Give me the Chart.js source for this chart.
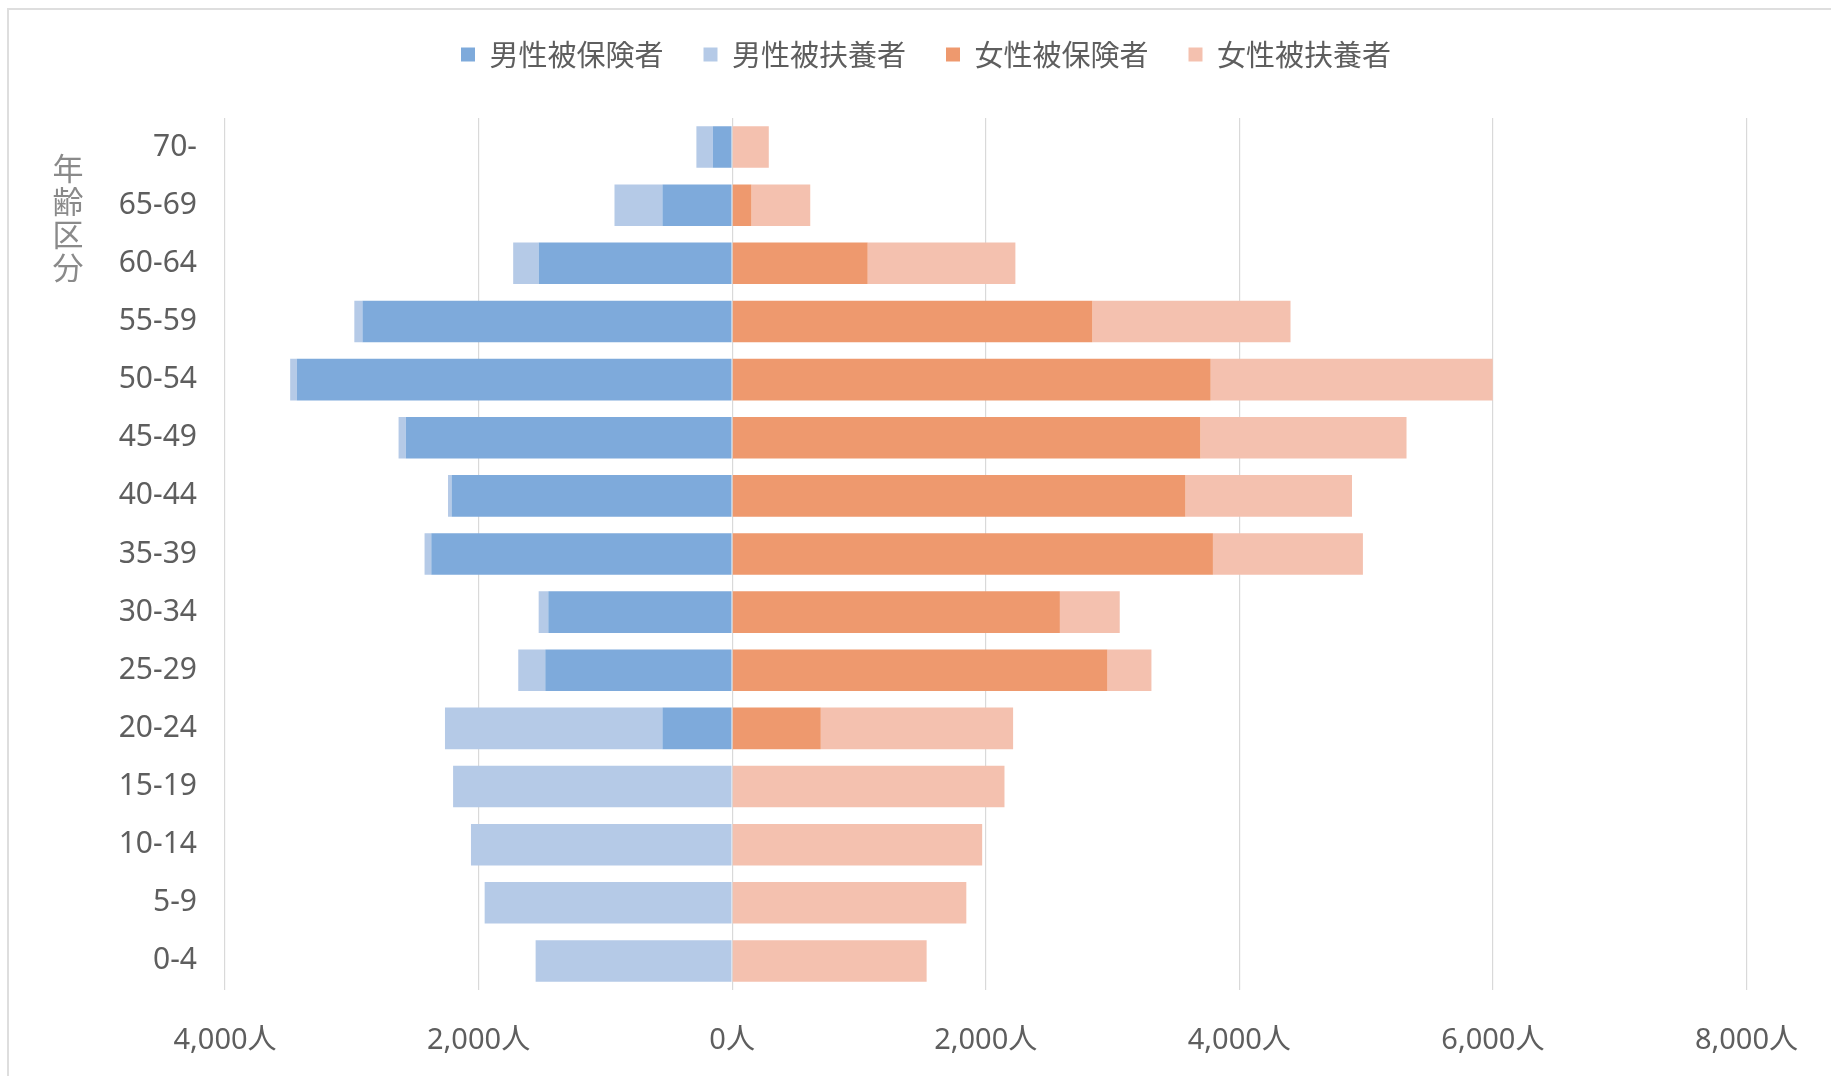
<!DOCTYPE html>
<html lang="ja">
<head>
<meta charset="utf-8">
<title>年齢区分別 加入者数</title>
<script src="https://cdn.jsdelivr.net/npm/chart.js@4/dist/chart.umd.min.js"></script>
<style>
  html, body { margin: 0; padding: 0; background: #ffffff; overflow: hidden; }
  body { width: 1831px; height: 1076px; position: relative; }
  #frame {
    position: absolute; left: 7px; top: 8px; width: 2000px; height: 2000px;
    border-left: 2px solid #dedede; border-top: 2px solid #dedede;
  }
  #wrap { position: absolute; left: 0; top: 0; width: 1831px; height: 1076px; }
</style>
</head>
<body>
<div id="frame"></div>
<div id="wrap"><canvas id="chart" width="1831" height="1076"></canvas></div>
<script>
// Age groups, top row first
const ageGroups = ['70-', '65-69', '60-64', '55-59', '50-54', '45-49', '40-44', '35-39',
                   '30-34', '25-29', '20-24', '15-19', '10-14', '5-9', '0-4'];

// Head counts (persons) per age group
const maleInsured      = [153, 550, 1526, 2916, 3434, 2574, 2213, 2373, 1450, 1474, 550, 0, 0, 0, 0];
const maleDependents   = [129, 378, 201, 64, 52, 57, 28, 53, 76, 213, 1715, 2201, 2060, 1952, 1550];
const femaleInsured    = [0, 152, 1069, 2841, 3774, 3693, 3575, 3792, 2585, 2960, 699, 0, 0, 0, 0];
const femaleDependents = [289, 464, 1165, 1563, 2225, 1626, 1314, 1183, 472, 347, 1517, 2148, 1972, 1847, 1534];

const seriesNames = ['男性被保険者', '男性被扶養者', '女性被保険者', '女性被扶養者'];
const axisTitle = '年齢区分';
const axisMin = -4000, axisMax = 8000, axisStep = 2000;

const FONT = "'Noto Sans', 'Noto Sans CJK JP', sans-serif";
const TEXT = '#5e5e5e';

// men extend to the left of zero
const left = arr => arr.map(v => -v);

// extra space between the legend row and the plot
const legendGap = {
  id: 'legendGap',
  afterInit(chart) {
    const fit = chart.legend.fit;
    chart.legend.fit = function () { fit.call(this); this.height += 39; };
  }
};

// upright, stacked category-axis title
const verticalTitle = {
  id: 'verticalTitle',
  afterDraw(chart) {
    const ctx = chart.ctx;
    ctx.save();
    ctx.font = "31px 'Noto Sans CJK JP', sans-serif";
    ctx.fillStyle = '#8a8a8a';
    ctx.textAlign = 'center';
    ctx.textBaseline = 'middle';
    const chars = Array.from(axisTitle);
    chars.forEach((c, i) => ctx.fillText(c, 68, 168 + i * 33));
    ctx.restore();
  }
};

new Chart(document.getElementById('chart'), {
  type: 'bar',
  data: {
    labels: ageGroups,
    datasets: [
      { label: seriesNames[0], data: left(maleInsured),    backgroundColor: '#7eaadb' },
      { label: seriesNames[1], data: left(maleDependents), backgroundColor: '#b5cae7' },
      { label: seriesNames[2], data: femaleInsured,        backgroundColor: '#ee996e' },
      { label: seriesNames[3], data: femaleDependents,     backgroundColor: '#f4c1af' }
    ]
  },
  options: {
    indexAxis: 'y',
    responsive: false,
    animation: false,
    datasets: { bar: { barPercentage: 0.715, categoryPercentage: 1.0, borderWidth: 0 } },
    layout: { padding: { left: 105, right: 84, top: 0, bottom: 0 } },
    plugins: {
      tooltip: { enabled: false },
      legend: {
        position: 'top',
        labels: {
          boxWidth: 14, boxHeight: 14, padding: 40,
          color: TEXT,
          font: { family: "'Noto Sans CJK JP', sans-serif", size: 29 }
        }
      }
    },
    scales: {
      x: {
        stacked: true,
        min: axisMin, max: axisMax,
        border: { display: false },
        grid: { color: '#d9d9d9', lineWidth: 1.2, drawTicks: false },
        ticks: {
          stepSize: axisStep,
          padding: 33,
          color: TEXT,
          font: { family: FONT, size: 29 },
          callback: v => Math.abs(v).toLocaleString('en-US') + '人'
        },
        afterFit(scale) { scale.height = 86; }
      },
      y: {
        stacked: true,
        border: { display: false },
        grid: { display: false, drawTicks: false },
        ticks: {
          padding: 28,
          color: TEXT,
          font: { family: FONT, size: 30 }
        },
        afterFit(scale) { scale.width = 120; }
      }
    }
  },
  plugins: [legendGap, verticalTitle]
});
</script>
</body>
</html>
